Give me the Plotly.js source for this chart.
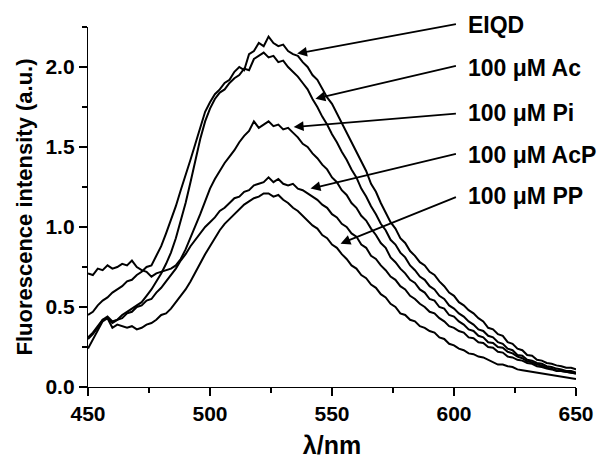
<!DOCTYPE html>
<html>
<head>
<meta charset="utf-8">
<script src="https://cdn.plot.ly/plotly-3.0.1.min.js"></script>
<style>html,body{margin:0;padding:0;background:#fff;}#chart{width:597px;height:462px;}</style>
</head>
<body>
<div id="chart"></div>
<script>
// wavelength grid (nm)
var wavelength = [450,452,454,456,458,460,462,464,466,468,470,472,474,476,478,480,482,484,486,488,490,492,494,496,498,500,502,504,506,508,510,512,514,516,518,520,522,524,526,528,530,532,534,536,538,540,542,544,546,548,550,552,554,556,558,560,562,564,566,568,570,572,574,576,578,580,582,584,586,588,590,592,594,596,598,600,602,604,606,608,610,612,614,616,618,620,622,624,626,628,630,632,634,636,638,640,642,644,646,648,650];

var seriesNames = ["EIQD", "100 μM Ac", "100 μM Pi", "100 μM AcP", "100 μM PP"];

var eiqd = [0.45,0.47,0.51,0.54,0.56,0.59,0.61,0.63,0.66,0.67,0.70,0.72,0.75,0.76,0.82,0.88,0.96,1.04,1.13,1.23,1.32,1.42,1.52,1.62,1.72,1.78,1.83,1.86,1.90,1.92,1.97,2.00,1.98,2.08,2.10,2.15,2.13,2.19,2.15,2.13,2.14,2.10,2.08,2.07,2.03,2.00,1.95,1.92,1.86,1.81,1.77,1.71,1.65,1.59,1.53,1.47,1.40,1.35,1.27,1.22,1.15,1.09,1.03,0.99,0.93,0.90,0.85,0.82,0.78,0.76,0.72,0.70,0.66,0.63,0.59,0.57,0.53,0.51,0.48,0.46,0.43,0.41,0.37,0.36,0.33,0.32,0.28,0.27,0.24,0.23,0.20,0.195,0.17,0.165,0.15,0.145,0.135,0.13,0.12,0.12,0.11];

var ac = [0.31,0.34,0.38,0.42,0.44,0.41,0.42,0.45,0.47,0.49,0.51,0.53,0.57,0.61,0.66,0.71,0.77,0.84,0.93,1.04,1.15,1.28,1.42,1.55,1.66,1.74,1.80,1.84,1.86,1.90,1.93,1.95,1.99,1.98,2.05,2.07,2.09,2.06,2.07,2.03,2.04,2.00,1.97,1.94,1.90,1.86,1.80,1.75,1.69,1.64,1.58,1.53,1.47,1.42,1.36,1.31,1.24,1.19,1.13,1.08,1.02,0.98,0.92,0.89,0.84,0.81,0.76,0.73,0.69,0.67,0.63,0.61,0.57,0.55,0.51,0.49,0.46,0.44,0.41,0.39,0.36,0.35,0.32,0.31,0.28,0.27,0.24,0.23,0.20,0.195,0.17,0.165,0.15,0.145,0.13,0.125,0.115,0.11,0.10,0.10,0.09];

var pi = [0.71,0.70,0.74,0.73,0.76,0.74,0.75,0.77,0.76,0.79,0.75,0.73,0.72,0.69,0.71,0.72,0.73,0.74,0.76,0.80,0.86,0.93,1.01,1.08,1.16,1.24,1.30,1.35,1.40,1.44,1.48,1.53,1.57,1.60,1.66,1.62,1.64,1.66,1.63,1.64,1.61,1.62,1.59,1.56,1.52,1.50,1.46,1.43,1.39,1.36,1.31,1.28,1.23,1.20,1.15,1.12,1.07,1.04,0.99,0.95,0.90,0.87,0.81,0.78,0.74,0.71,0.67,0.65,0.61,0.59,0.55,0.54,0.50,0.49,0.45,0.44,0.41,0.39,0.36,0.35,0.32,0.31,0.28,0.275,0.25,0.245,0.22,0.21,0.19,0.18,0.16,0.155,0.14,0.135,0.12,0.115,0.105,0.10,0.095,0.09,0.085];

var acp = [0.30,0.33,0.37,0.42,0.43,0.40,0.42,0.43,0.46,0.47,0.50,0.51,0.54,0.55,0.59,0.62,0.66,0.70,0.74,0.79,0.83,0.88,0.92,0.96,1.00,1.03,1.06,1.10,1.12,1.15,1.18,1.19,1.22,1.23,1.26,1.27,1.28,1.31,1.28,1.30,1.27,1.26,1.27,1.24,1.23,1.21,1.19,1.17,1.14,1.12,1.08,1.06,1.02,1.00,0.96,0.94,0.89,0.87,0.82,0.80,0.76,0.73,0.69,0.67,0.63,0.61,0.57,0.55,0.52,0.50,0.47,0.46,0.43,0.41,0.38,0.37,0.35,0.34,0.31,0.305,0.28,0.275,0.25,0.245,0.22,0.215,0.19,0.185,0.17,0.165,0.15,0.145,0.13,0.125,0.115,0.11,0.10,0.10,0.095,0.09,0.085];

var pp = [0.24,0.30,0.36,0.41,0.43,0.37,0.39,0.38,0.37,0.38,0.36,0.37,0.39,0.40,0.42,0.45,0.46,0.49,0.53,0.57,0.61,0.66,0.72,0.78,0.83,0.88,0.93,0.98,1.02,1.05,1.08,1.11,1.14,1.16,1.18,1.19,1.21,1.21,1.19,1.20,1.17,1.15,1.12,1.10,1.07,1.04,1.01,0.99,0.95,0.93,0.89,0.87,0.83,0.80,0.76,0.74,0.70,0.68,0.64,0.62,0.58,0.56,0.52,0.50,0.46,0.45,0.42,0.41,0.38,0.37,0.35,0.34,0.31,0.30,0.27,0.26,0.24,0.23,0.21,0.205,0.19,0.185,0.17,0.16,0.14,0.14,0.13,0.125,0.11,0.105,0.10,0.095,0.09,0.088,0.08,0.078,0.07,0.068,0.06,0.058,0.05];

var xTickVals = [450, 500, 550, 600, 650];
var yTickVals = [0.0, 0.5, 1.0, 1.5, 2.0];

// arrow tips (on curves, data coords); label anchors in paper fractions
var labelX = [0.775, 0.775, 0.775, 0.775, 0.775];
var labelY = [1.006, 0.886, 0.761, 0.644, 0.531];
var tailX = [601.4, 601.4, 601.4, 601.4, 601.4];
var tailY = [2.27, 2.01, 1.709, 1.459, 1.19];
var tipX = [535.7, 543.2, 534.3, 541.2, 553.5];
var tipY = [2.084, 1.802, 1.625, 1.24, 0.896];

var allY = [eiqd, ac, pi, acp, pp];
var traces = allY.map(function (ys, i) {
  return {x: wavelength, y: ys, type: 'scatter', mode: 'lines', name: seriesNames[i],
          line: {color: '#000', width: 2}, showlegend: false, hoverinfo: 'skip'};
});

var FONT = 'Liberation Sans, Arial, sans-serif';
var annotations = [];
seriesNames.forEach(function (n, i) {
  annotations.push({x: tipX[i], y: tipY[i], ax: tailX[i], ay: tailY[i], xref: 'x', yref: 'y', axref: 'x', ayref: 'y',
    text: '', showarrow: true, arrowhead: 2, arrowsize: 1.1, arrowwidth: 1.8, arrowcolor: '#000'});
  annotations.push({x: labelX[i], y: labelY[i], xref: 'paper', yref: 'paper', text: n, showarrow: false,
    xanchor: 'left', yanchor: 'middle', font: {family: FONT, size: 23, color: '#000', weight: 'bold'}});
});

var layout = {
  width: 597, height: 462,
  margin: {l: 88, r: 21, t: 27, b: 75},
  paper_bgcolor: '#fff', plot_bgcolor: '#fff',
  font: {family: FONT, color: '#000'},
  xaxis: {range: [450, 650], tickvals: xTickVals, ticktext: xTickVals.map(String),
    showgrid: false, zeroline: false, showline: true, linecolor: '#000', linewidth: 1.2,
    ticks: 'outside', ticklen: 8, tickwidth: 1.2, tickcolor: '#000',
    minor: {dtick: 25, tick0: 450, ticks: 'outside', ticklen: 5, tickwidth: 1.2, tickcolor: '#000', showgrid: false},
    tickfont: {family: FONT, size: 21, color: '#000', weight: 'bold'},
    title: {text: 'λ/nm', font: {family: FONT, size: 25, color: '#000', weight: 'bold'}, standoff: 12}},
  yaxis: {range: [0, 2.25], tickvals: yTickVals, ticktext: yTickVals.map(function (v) { return v.toFixed(1); }),
    showgrid: false, zeroline: false, showline: true, linecolor: '#000', linewidth: 1.2,
    ticks: 'outside', ticklen: 8, tickwidth: 1.2, tickcolor: '#000',
    minor: {dtick: 0.25, tick0: 0, ticks: 'outside', ticklen: 5, tickwidth: 1.2, tickcolor: '#000', showgrid: false},
    tickfont: {family: FONT, size: 21, color: '#000', weight: 'bold'},
    title: {text: 'Fluorescence intensity (a.u.)', font: {family: FONT, size: 22, color: '#000', weight: 'bold'}, standoff: 6}},
  annotations: annotations
};

Plotly.newPlot('chart', traces, layout, {staticPlot: true, displayModeBar: false});
</script>
</body>
</html>
